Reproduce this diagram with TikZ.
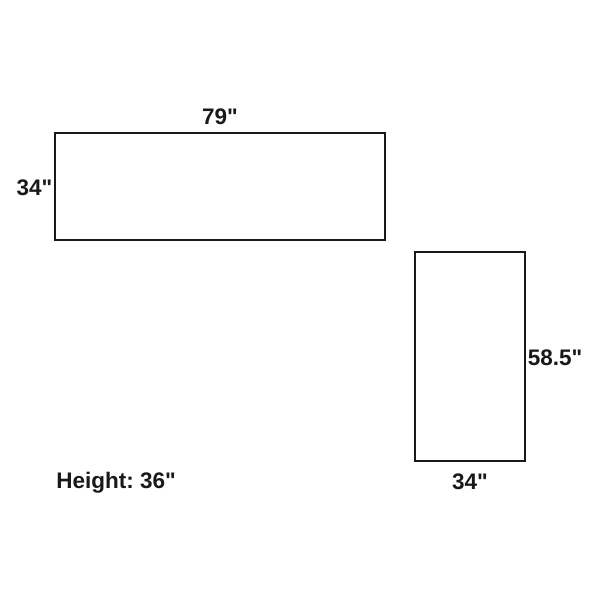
\documentclass[tikz,border=0pt]{standalone}
\usepackage{fontspec}
\setmainfont{Liberation Sans}[Ligatures=TeXOff]
\begin{document}
\frenchspacing
\begin{tikzpicture}[x=1pt,y=-1pt,
  piece/.style={draw=black!90,line width=2pt,fill=white,inner sep=0pt,outer sep=0pt},
  dim/.style={font=\fontsize{22.5}{26}\selectfont\bfseries,inner sep=0pt,anchor=base,text=black!90}]
\useasboundingbox (0,0) rectangle (600,600);
\node[piece,minimum width=330pt,minimum height=107pt] (sofa) at (220,186.5) {};
\node[piece,minimum width=110pt,minimum height=209pt] (chaise) at (470,356.5) {};
\node[dim] (w1) at (220,124) {79"};
\node[dim] (d1) at (34.5,195) {34"};
\node[dim] (l2) at (555,365) {58.5"};
\node[dim] (w2) at (470,489) {34"};
\node[dim] (ht) at (116,488) {Height: 36"};
\end{tikzpicture}
\end{document}
